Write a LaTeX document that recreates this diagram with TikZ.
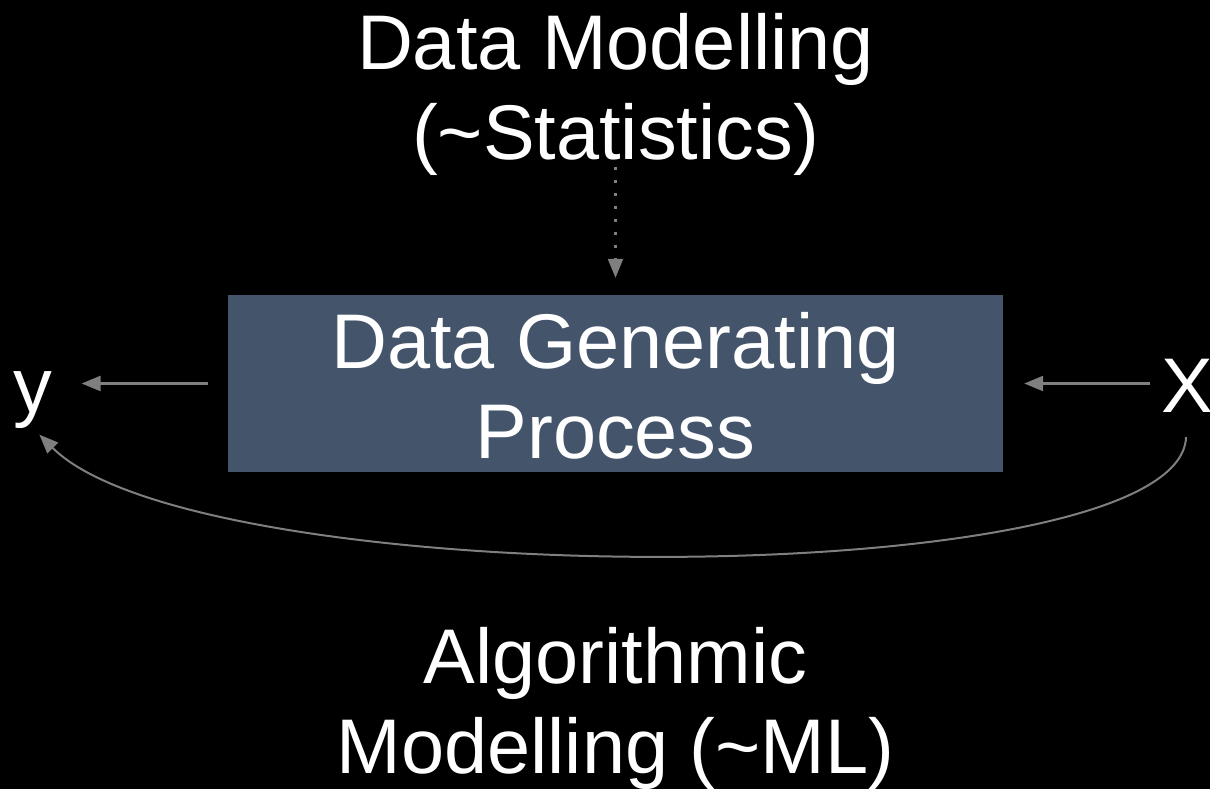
\documentclass[tikz,border=0pt]{standalone}
\usepackage{fontspec}
\setmainfont{Liberation Sans}
\usetikzlibrary{arrows.meta}
\definecolor{boxblue}{HTML}{44546A}
\definecolor{linegray}{HTML}{7F7F7F}
\tikzset{
  big/.style={text=white, font=\fontsize{77.5}{90}\selectfont, inner sep=0pt, align=center},
  conn/.style={draw=linegray, line width=2.4pt,
    -{Triangle[length=19pt,width=15pt]}},
  dotconn/.style={conn, dash pattern=on 3pt off 10pt},
}
\begin{document}
\begin{tikzpicture}[x=1pt,y=-1pt]
  \path[fill=black] (0,0) rectangle (1210,789);
  \useasboundingbox (0,0) rectangle (1210,789);

  % central process box
  \node[fill=boxblue, minimum width=775pt, minimum height=177pt, inner sep=0pt]
    (dgp) at (615.5,383.5) {};
  \node[big, anchor=base] (dgptext) at (615.5,458) {Data Generating\\Process};

  % headings (anchored on the baseline of their last line)
  \node[big, anchor=base] (stats) at (615.5,160) {Data Modelling\\(\char`~Statistics)};
  \node[big, anchor=base] (ml) at (615.5,773) {Algorithmic\\Modelling (\char`~ML)};

  % inputs and outputs
  \node[big, anchor=base] (y) at (33,412) {y};
  \node[big, anchor=base] (X) at (1187,412) {X};

  % connectors
  \draw[conn, shorten <=20pt, shorten >=29pt] (dgp.west) -- (y.east |- dgp.west);
  \draw[conn, shorten <=11pt, shorten >=21pt] (X.west |- dgp.east) -- (dgp.east);
  \draw[dotconn] (dgp.north |- 0,167) coordinate (dotstart) -- ([yshift=17pt]dgp.north);
  \draw[conn, line width=2pt, shorten <=25pt, shorten >=9pt]
    (X.south) .. controls (1180,595) and (200,595) .. (y.south);
\end{tikzpicture}
\end{document}
